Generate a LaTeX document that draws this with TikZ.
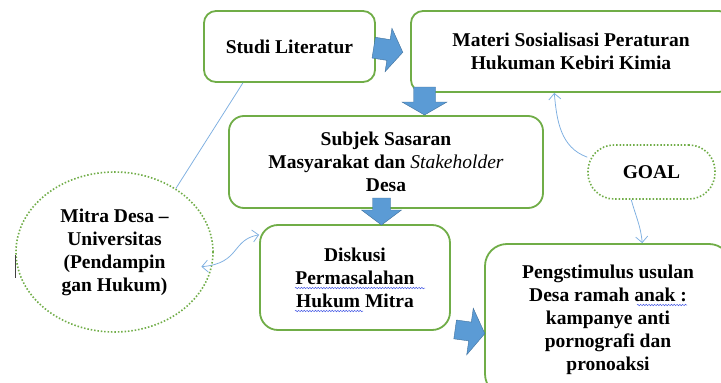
\documentclass[tikz,border=0pt]{standalone}
\usepackage{fontspec}
\setmainfont{Liberation Serif}
\usetikzlibrary{shapes.geometric,arrows.meta,decorations.pathmorphing}
\definecolor{boxgreen}{RGB}{112,173,71}
\definecolor{arrblue}{RGB}{91,155,213}
\definecolor{arredge}{RGB}{65,113,156}
\definecolor{linkblue}{RGB}{125,175,225}
\definecolor{spellblue}{RGB}{70,90,230}
\tikzset{
  txt/.style={font=\fontsize{19.5}{23}\selectfont\bfseries, align=center, text=black},
  stepbox/.style={txt, draw=boxgreen, line width=1.8pt, fill=white, rounded corners=#1, inner sep=0pt},
  stepbox/.default=12pt,
  dotbox/.style={txt, draw=boxgreen, line width=1.6pt, dash pattern=on 1.5pt off 1.9pt, fill=white, inner sep=0pt},
  blk/.style={fill=arrblue, draw=arredge, line width=0.4pt},
  conn/.style={draw=linkblue, line width=0.75pt},
  barb/.tip={Straight Barb[length=6pt,width=12pt,line width=0.75pt]},
  wavyline/.style={draw=spellblue, line width=0.5pt, decorate, decoration={snake, amplitude=0.7pt, segment length=2.8pt}}
}
\newcommand{\blkarrow}[6]{%
  \path[blk, shift={#1}, rotate=#2] (-#3pt,#5pt) -- (0pt,#5pt) -- (0pt,#6pt) -- (#4pt,0pt) -- (0pt,-#6pt) -- (0pt,-#5pt) -- (-#3pt,-#5pt) -- cycle;}
\begin{document}
\begin{tikzpicture}[x=1pt,y=-1pt]
\useasboundingbox (0,0) rectangle (721,383);
\clip (0,0) rectangle (721,383);
\fill[white] (0,0) rectangle (721,383);

% boxes
\node[stepbox=12pt, minimum width=171pt, minimum height=71pt] (studi) at (289.5,46.5) {Studi Literatur};
\node[stepbox=12pt, minimum width=320pt, minimum height=81pt] (materi) at (571,51.5) {Materi Sosialisasi Peraturan\\Hukuman Kebiri Kimia};
\node[stepbox=15pt, minimum width=314pt, minimum height=92pt] (subjek) at (386,162) {Subjek Sasaran\\Masyarakat dan {\mdseries\itshape Stakeholder}\\Desa};
\node[stepbox=18pt, minimum width=190pt, minimum height=105pt] (diskusi) at (355,277.5) {Diskusi\\Permasalahan\\Hukum Mitra};
\node[stepbox=22pt, minimum width=246pt, minimum height=152pt] (peng) at (608,320) {Pengstimulus usulan\\Desa ramah anak :\\kampanye anti\\pornografi dan\\pronoaksi};
\node[dotbox, rounded corners=26pt, minimum width=127pt, minimum height=54pt] (goal) at (651.5,172) {GOAL};
\node[dotbox, ellipse, minimum width=197pt, minimum height=160pt] (mitra) at (114.5,252) {Mitra Desa --\\Universitas\\(Pendampin\\gan Hukum)};

% block arrows
\blkarrow{(388.5,50)}{-9}{15}{14.5}{10.5}{22}
\blkarrow{(424.5,102)}{-90}{15}{13}{11}{22.5}
\blkarrow{(381.5,210)}{-90}{12}{15}{9}{20}
\blkarrow{(470,331.5)}{-8}{15}{15}{9.5}{23.5}

% connectors
\draw[conn] (studi.218) -- (mitra.46);
\draw[conn, {barb}-{barb}, shorten <=-11pt] (mitra.-8) to[out=5, in=190, looseness=1.3] (diskusi.156);
\draw[conn, -{barb}] (goal.167) to[out=160, in=-85] (materi.248);
\draw[conn, -{barb}] (goal.-126) to[out=-75, in=95] (peng.66);

% spelling marks and cursor
\draw[wavyline] (295,288) -- (425,288);
\draw[wavyline] (295,311) -- (363,311);
\draw[wavyline] (637,305) -- (687,305);
\draw[line width=0.8pt, black!75] (15,255) -- (15,278);
\end{tikzpicture}
\end{document}
